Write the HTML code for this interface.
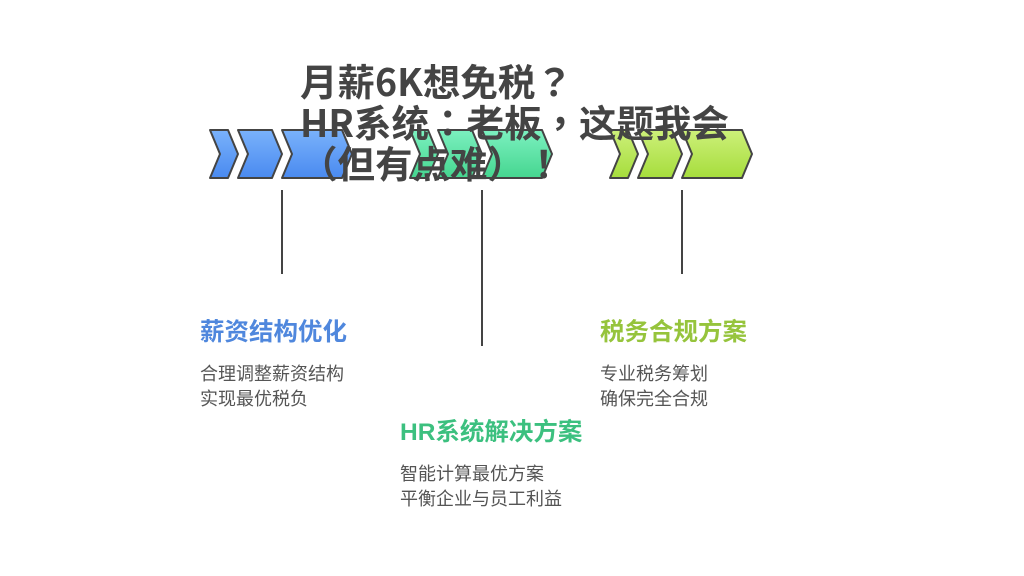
<!DOCTYPE html>
<html><head><meta charset="utf-8"><style>
body{margin:0;width:1024px;height:576px;background:#fff;position:relative;overflow:hidden;font-family:"Liberation Sans","Noto Sans CJK SC",sans-serif}
.t{position:absolute;white-space:nowrap}
.title{left:300px;top:59px;font-size:37.5px;line-height:41px;font-weight:bold;color:#444;font-family:"Noto Sans CJK TC","Noto Sans CJK SC",sans-serif}
.h{font-size:24.5px;font-weight:bold}
.d{font-size:18px;color:#555;line-height:25px}
</style></head><body>
<svg width="1024" height="576" style="position:absolute;left:0;top:0">
<defs>
<linearGradient id="gb" x1="0" y1="0" x2="0" y2="1"><stop offset="0" stop-color="#7ab2fb"/><stop offset="1" stop-color="#4a8af0"/></linearGradient>
<linearGradient id="gg" x1="0" y1="0" x2="0" y2="1"><stop offset="0" stop-color="#7cf0c0"/><stop offset="1" stop-color="#45d690"/></linearGradient>
<linearGradient id="gl" x1="0" y1="0" x2="0" y2="1"><stop offset="0" stop-color="#cdf07a"/><stop offset="1" stop-color="#a6dd3c"/></linearGradient>
<g id="ch" stroke="#444" stroke-width="2" stroke-linejoin="round">
<polygon points="0,130 18,130 28,154 18,178 0,178 10,154"/>
<polygon points="28,130 62,130 72,154 62,178 28,178 38,154"/>
<polygon points="72,130 132,130 142,154 132,178 72,178 82,154"/>
</g>
</defs>
<use href="#ch" x="210" fill="url(#gb)"/>
<use href="#ch" x="410" fill="url(#gg)"/>
<use href="#ch" x="610" fill="url(#gl)"/>
<g stroke="#444" stroke-width="2">
<line x1="282" y1="190" x2="282" y2="274"/>
<line x1="482" y1="190" x2="482" y2="346"/>
<line x1="682" y1="190" x2="682" y2="274"/>
</g>
</svg>
<div class="t title">月薪6K想免税？<br>HR系统：老板，这题我会<br>（但有点难）！</div>
<div class="t h" style="left:200px;top:313px;color:#4f87dd">薪资结构优化</div>
<div class="t d" style="left:200px;top:362px">合理调整薪资结构<br>实现最优税负</div>
<div class="t h" style="left:400px;top:413px;color:#3cc07f">HR系统解决方案</div>
<div class="t d" style="left:400px;top:462px">智能计算最优方案<br>平衡企业与员工利益</div>
<div class="t h" style="left:600px;top:313px;color:#96c43c">税务合规方案</div>
<div class="t d" style="left:600px;top:362px">专业税务筹划<br>确保完全合规</div>
</body></html>
